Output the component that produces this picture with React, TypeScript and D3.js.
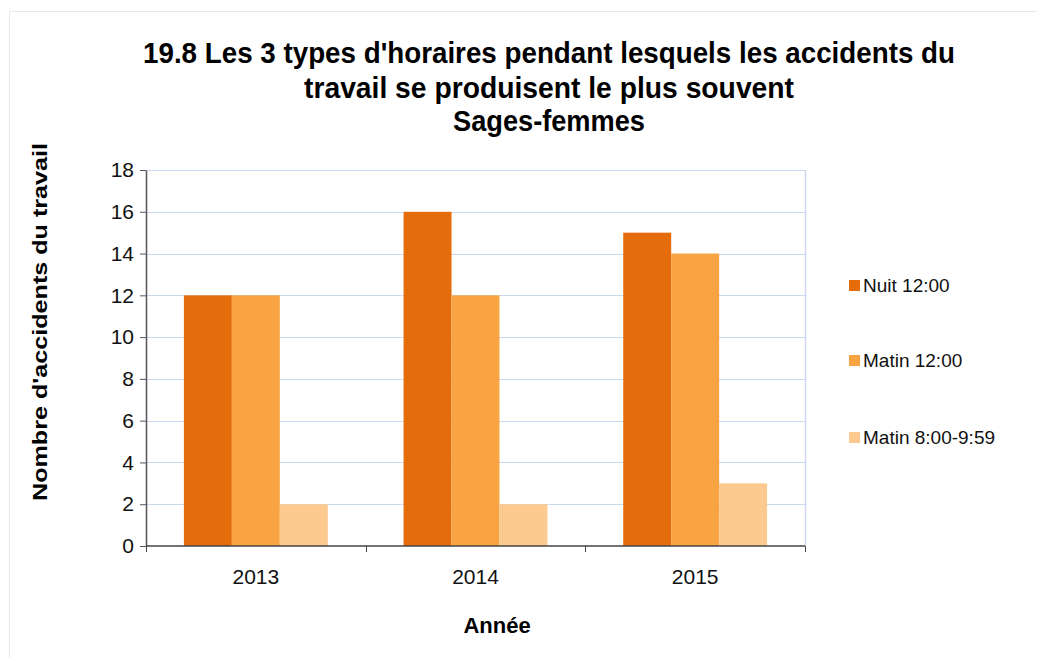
import React, { useEffect, useRef } from "react";
import * as d3 from "d3";

const years = ["2013", "2014", "2015"];
const seriesNames = ["Nuit 12:00", "Matin 12:00", "Matin 8:00-9:59"];
const nuit = [12, 16, 15];
const matin12 = [12, 12, 14];
const matin8 = [2, 2, 3];
const yTicks = [0, 2, 4, 6, 8, 10, 12, 14, 16, 18];
const colors = ["#E46C0A", "#F9A443", "#FCC98E"];

const titleLines = [
  "19.8 Les 3 types d'horaires pendant lesquels les accidents du",
  "travail se produisent le plus souvent",
  "Sages-femmes",
];

const App = () => {
  const chartRef = useRef<HTMLDivElement>(null);

  useEffect(() => {
    if (!chartRef.current) return;
    chartRef.current.innerHTML = "";

    const width = 1037;
    const height = 658;
    const marginLeft = 146;
    const marginRight = 805;
    const marginTop = 170;
    const marginBottom = 546;

    const values = [nuit, matin12, matin8];

    const svg = d3
      .create("svg")
      .attr("width", width)
      .attr("height", height)
      .attr("viewBox", [0, 0, width, height])
      .style("font-family", "'Liberation Sans', Arial, sans-serif");

    svg.append("rect").attr("width", width).attr("height", height).attr("fill", "#fff");

    // faint frame around the chart
    svg
      .append("rect")
      .attr("x", 9.5)
      .attr("y", 11.5)
      .attr("width", width + 20)
      .attr("height", height + 20)
      .attr("fill", "none")
      .attr("stroke", "#e3eaea");

    const x = d3.scaleBand().domain(years).range([marginLeft, marginRight]);
    const xInner = d3
      .scaleBand()
      .domain(seriesNames)
      .range([0, x.bandwidth()])
      .paddingOuter(0.79);
    const y = d3.scaleLinear().domain([0, 18]).range([marginBottom, marginTop]);

    // gridlines
    svg
      .append("g")
      .selectAll("line")
      .data(yTicks.filter((t) => t > 0))
      .join("line")
      .attr("x1", marginLeft)
      .attr("x2", marginRight)
      .attr("y1", (d) => Math.round(y(d)) + 0.5)
      .attr("y2", (d) => Math.round(y(d)) + 0.5)
      .attr("stroke", "#c9daf0")
      .attr("stroke-width", 1.2);

    svg
      .append("line")
      .attr("x1", marginRight + 0.5)
      .attr("x2", marginRight + 0.5)
      .attr("y1", marginTop)
      .attr("y2", marginBottom)
      .attr("stroke", "#c9daf0")
      .attr("stroke-width", 1.5);

    // bars
    seriesNames.forEach((name, i) => {
      svg
        .append("g")
        .attr("fill", colors[i])
        .selectAll("rect")
        .data(years.map((yr, j) => ({ yr, v: values[i][j] })))
        .join("rect")
        .attr("x", (d) => (x(d.yr) as number) + (xInner(name) as number))
        .attr("y", (d) => y(d.v))
        .attr("width", xInner.bandwidth())
        .attr("height", (d) => y(0) - y(d.v));
    });

    // y axis
    svg
      .append("g")
      .attr("transform", `translate(${marginLeft},0)`)
      .call(d3.axisLeft(y).tickValues(yTicks).tickSize(6).tickSizeOuter(0).tickPadding(6))
      .call((g) => g.selectAll("line").attr("stroke", "#555"))
      .call((g) => g.select(".domain").attr("stroke", "#555").attr("stroke-width", 1.5))
      .call((g) =>
        g
          .selectAll("text")
          .attr("font-size", "21px")
          .attr("font-family", "'Liberation Sans', Arial, sans-serif")
          .attr("fill", "#111")
      );

    // x axis with boundary ticks
    const xg = svg.append("g").attr("transform", `translate(0,${marginBottom})`);
    xg.append("line")
      .attr("x1", marginLeft)
      .attr("x2", marginRight)
      .attr("stroke", "#444")
      .attr("stroke-width", 1.5);
    const bounds = years.map((yr) => x(yr) as number).concat([marginRight]);
    xg.selectAll("line.tick")
      .data(bounds)
      .join("line")
      .attr("class", "tick")
      .attr("x1", (d) => Math.round(d) + 0.5)
      .attr("x2", (d) => Math.round(d) + 0.5)
      .attr("y1", 0)
      .attr("y2", 6)
      .attr("stroke", "#444");
    xg.selectAll("text")
      .data(years)
      .join("text")
      .attr("x", (d) => (x(d) as number) + x.bandwidth() / 2)
      .attr("y", 38)
      .attr("text-anchor", "middle")
      .attr("font-size", "21px")
      .attr("fill", "#111")
      .text((d) => d);

    // title
    const titleY = [63, 98, 131];
    const titleLen = [812, 490, 192];
    svg
      .append("g")
      .selectAll("text")
      .data(titleLines)
      .join("text")
      .attr("x", 549)
      .attr("y", (d, i) => titleY[i])
      .attr("text-anchor", "middle")
      .attr("font-size", "29px")
      .attr("font-weight", "bold")
      .attr("textLength", (d, i) => titleLen[i])
      .attr("lengthAdjust", "spacingAndGlyphs")
      .attr("fill", "#000")
      .text((d) => d);

    // axis titles
    svg
      .append("text")
      .attr("transform", "translate(47,322) rotate(-90)")
      .attr("text-anchor", "middle")
      .attr("font-size", "21px")
      .attr("font-weight", "bold")
      .attr("textLength", 358)
      .attr("lengthAdjust", "spacingAndGlyphs")
      .text("Nombre d'accidents du travail");

    svg
      .append("text")
      .attr("x", 497)
      .attr("y", 633)
      .attr("text-anchor", "middle")
      .attr("font-size", "22px")
      .attr("font-weight", "bold")
      .text("Année");

    // legend
    const legendY = [285, 360, 437];
    const legend = svg
      .append("g")
      .selectAll("g")
      .data(seriesNames)
      .join("g")
      .attr("transform", (d, i) => `translate(849,${legendY[i]})`);
    legend
      .append("rect")
      .attr("x", 0)
      .attr("y", -5)
      .attr("width", 11)
      .attr("height", 11)
      .attr("fill", (d, i) => colors[i]);
    legend
      .append("text")
      .attr("x", 14)
      .attr("y", 7)
      .attr("font-size", "19px")
      .attr("fill", "#111")
      .text((d) => d);

    chartRef.current.appendChild(svg.node() as SVGSVGElement);
  }, []);

  return <div ref={chartRef} style={{ position: "absolute", left: 0, top: 0 }} />;
};

export default App;
